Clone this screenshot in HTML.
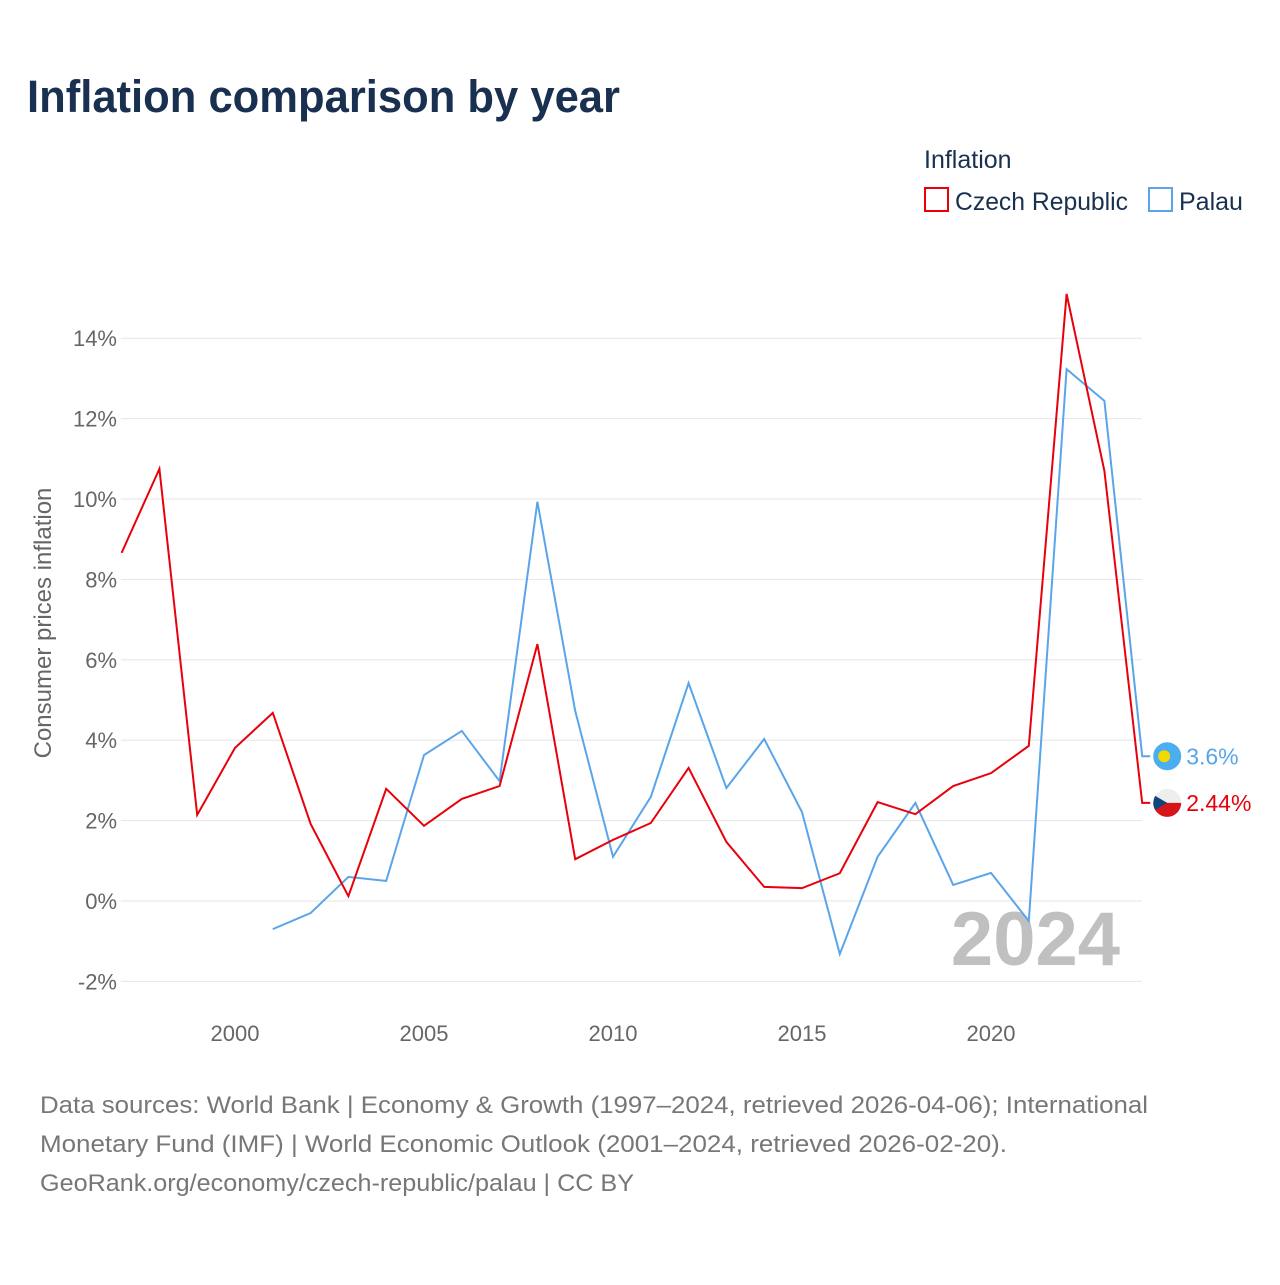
<!DOCTYPE html>
<html><head><meta charset="utf-8"><style>
body{margin:0;background:#fff;font-family:"Liberation Sans",sans-serif}
</style></head><body>
<svg id="chart" width="1280" height="1280" xmlns="http://www.w3.org/2000/svg" style="font-family:'Liberation Sans',sans-serif">
<rect width="1280" height="1280" fill="#fff"/>
<text x="27" y="112" font-size="45" font-weight="bold" fill="#1a3050" textLength="593" lengthAdjust="spacingAndGlyphs">Inflation comparison by year</text>
<text x="924" y="168" font-size="25" fill="#1a3050">Inflation</text>
<g><rect x="925" y="188" width="23" height="23" fill="none" stroke="#e8000b" stroke-width="2"/><text x="955" y="210" font-size="25" fill="#1a3050" textLength="173" lengthAdjust="spacingAndGlyphs">Czech Republic</text></g>
<g><rect x="1149" y="188" width="23" height="23" fill="none" stroke="#5aa5ea" stroke-width="2"/><text x="1179" y="210" font-size="25" fill="#1a3050">Palau</text></g>
<text transform="translate(51,623) rotate(-90)" text-anchor="middle" font-size="24" fill="#666">Consumer prices inflation</text>
<g id="grid"></g><g id="ticks"></g>
<text x="1120" y="965" text-anchor="end" font-size="76" font-weight="bold" fill="#c0c0c0">2024</text>
<g id="series"></g>
<text x="40" y="1113" font-size="24" fill="#777" textLength="1108" lengthAdjust="spacingAndGlyphs">Data sources: World Bank | Economy &amp; Growth (1997–2024, retrieved 2026-04-06); International</text>
<text x="40" y="1152" font-size="24" fill="#777" textLength="967" lengthAdjust="spacingAndGlyphs">Monetary Fund (IMF) | World Economic Outlook (2001–2024, retrieved 2026-02-20).</text>
<text x="40" y="1191" font-size="24" fill="#777" textLength="594" lengthAdjust="spacingAndGlyphs">GeoRank.org/economy/czech-republic/palau | CC BY</text>
</svg>
<script>
const czechYears=[1997,1998,1999,2000,2001,2002,2003,2004,2005,2006,2007,2008,2009,2010,2011,2012,2013,2014,2015,2016,2017,2018,2019,2020,2021,2022,2023,2024];
const czechValues=[8.66,10.75,2.14,3.81,4.68,1.92,0.12,2.79,1.87,2.54,2.86,6.39,1.04,1.52,1.94,3.31,1.47,0.35,0.32,0.69,2.46,2.16,2.86,3.18,3.86,15.1,10.7,2.44];
const palauYears=[2001,2002,2003,2004,2005,2006,2007,2008,2009,2010,2011,2012,2013,2014,2015,2016,2017,2018,2019,2020,2021,2022,2023,2024];
const palauValues=[-0.7,-0.3,0.6,0.5,3.63,4.23,2.98,9.93,4.73,1.1,2.59,5.42,2.81,4.03,2.21,-1.32,1.1,2.44,0.4,0.7,-0.5,13.23,12.44,3.6];
const yTicks=[-2,0,2,4,6,8,10,12,14];
const xTicks=[2000,2005,2010,2015,2020];
const NS="http://www.w3.org/2000/svg";
const X=y=>235+(y-2000)*37.8;
const Y=v=>901-v*40.2;
const mk=(t,a,p)=>{const e=document.createElementNS(NS,t);for(const k in a)e.setAttribute(k,a[k]);p.appendChild(e);return e;};
const grid=document.getElementById('grid'),ticks=document.getElementById('ticks'),ser=document.getElementById('series');
yTicks.forEach(v=>{
 const l=mk('line',{x1:121,x2:1142,y1:Y(v),y2:Y(v),stroke:'#e6e6e6','stroke-width':1},grid);
 
 
 const t=mk('text',{x:117,y:Y(v)+8,'text-anchor':'end','font-size':22,fill:'#666'},ticks);
 t.textContent=v+'%';
 
 
});
xTicks.forEach(y=>{
 const t=mk('text',{x:X(y),y:1041,'text-anchor':'middle','font-size':22,fill:'#666'},ticks);
 t.textContent=y;
 
 
});
function line(years,vals,color,name,label,flag){
 let d=years.map((y,i)=>(i?'L':'M')+X(y)+','+Y(vals[i])).join(' ');
 const last=vals[vals.length-1];
 d+=' L'+(X(2024)+8)+','+Y(last);
 const p=mk('path',{d:d,fill:'none',stroke:color,'stroke-width':2},ser);
 
 
 const g=mk('g',{},ser);
 
 
 const cx=X(2024)+25,cy=Y(last);
 if(flag==='pw'){mk('circle',{cx:cx,cy:cy,r:14,fill:'#4aaef0'},g);mk('circle',{cx:cx-3,cy:cy,r:6,fill:'#f5d800'},g);}
 else{mk('circle',{cx:cx,cy:cy,r:14,fill:'#eee'},g);mk('path',{d:`M${cx-14},${cy} A14,14 0 0 0 ${cx+14},${cy} Z`,fill:'#d7141a'},g);mk('path',{d:`M${cx-12},${cy-7} L${cx},${cy} L${cx-12},${cy+7} A14,14 0 0 1 ${cx-12},${cy-7}Z`,fill:'#11457e'},g);}
 const t=mk('text',{x:cx+19,y:cy+8,'font-size':23,fill:color},ser);
 t.textContent=label;
 
 
}
line(palauYears,palauValues,'#5aa5ea','palau-line',palauValues[palauValues.length-1]+'%','pw');
line(czechYears,czechValues,'#e8000b','czech-line',czechValues[czechValues.length-1]+'%','cz');
</script>
</body></html>
